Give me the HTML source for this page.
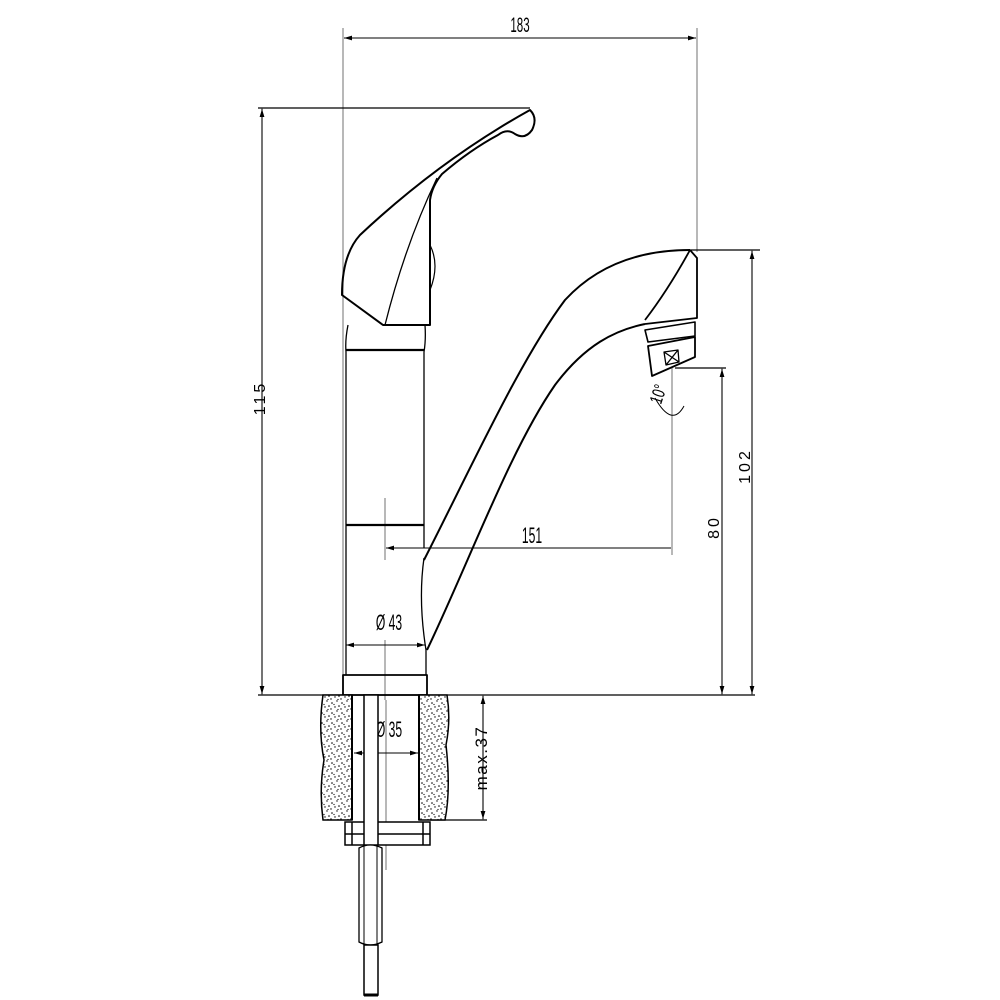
<!DOCTYPE html>
<html><head><meta charset="utf-8"><style>
html,body{margin:0;padding:0;background:#fff}
svg{display:block}
text{font-family:"Liberation Sans",sans-serif;fill:#000}
</style></head><body>
<svg width="1000" height="1000" viewBox="0 0 1000 1000" xmlns="http://www.w3.org/2000/svg">
<defs>
<pattern id="sp" width="10" height="10" patternUnits="userSpaceOnUse">
<rect width="10" height="10" fill="#fff"/>
<circle cx="2" cy="3" r="0.8" fill="#000"/><circle cx="7" cy="1" r="0.7" fill="#000"/>
<circle cx="9" cy="6" r="0.8" fill="#000"/><circle cx="5" cy="7" r="0.7" fill="#000"/>
<circle cx="1" cy="9" r="0.7" fill="#000"/><circle cx="8" cy="9.5" r="0.6" fill="#000"/>
<circle cx="4" cy="4.5" r="0.6" fill="#000"/>
</pattern>
<marker id="a" viewBox="0 0 10 6" refX="10" refY="3" markerWidth="8" markerHeight="5" orient="auto-start-reverse"><path d="M0,0L10,3L0,6z" fill="#000"/></marker>
</defs>
<g stroke="#888" stroke-width="1.2" fill="none">
<line x1="343" y1="28" x2="343" y2="695"/>
<line x1="697" y1="28" x2="697" y2="252"/>
<line x1="262" y1="108" x2="262" y2="695"/>
<line x1="722" y1="368" x2="722" y2="695"/>
<line x1="752" y1="250" x2="752" y2="695"/>
<line x1="672" y1="368" x2="672" y2="555"/>
<line x1="385" y1="498" x2="385" y2="560"/>
<line x1="385" y1="640" x2="385" y2="700"/>
<line x1="386" y1="700" x2="386" y2="870"/>
<line x1="483" y1="695" x2="483" y2="820"/>
</g>
<g stroke="#000" stroke-width="1.3" fill="none">
<line x1="258" y1="108" x2="530" y2="108"/>
<line x1="258" y1="695" x2="755" y2="695"/>
<line x1="690" y1="250" x2="760" y2="250"/>
<line x1="675" y1="368" x2="726" y2="368"/>
<line x1="430" y1="820" x2="487" y2="820"/>
</g>
<g stroke="#000" stroke-width="1" fill="none" marker-start="url(#a)" marker-end="url(#a)">
<line x1="344" y1="38" x2="696" y2="38"/>
<line x1="262" y1="109" x2="262" y2="694"/>
<line x1="752" y1="251" x2="752" y2="694"/>
<line x1="722" y1="369" x2="722" y2="694"/>
<line x1="483" y1="696" x2="483" y2="819"/>
<line x1="346" y1="645" x2="425" y2="645"/>
<line x1="354" y1="753" x2="418" y2="753"/>
</g>
<line x1="386" y1="548" x2="671" y2="548" stroke="#000" stroke-width="1" marker-start="url(#a)"/>
<g transform="translate(520,32) scale(0.55,1)"><text x="0" y="0" font-size="21" text-anchor="middle">183</text></g>
<g transform="translate(532,543) scale(0.55,1)"><text x="0" y="0" font-size="22" text-anchor="middle">151</text></g>
<g transform="translate(389,630) scale(0.55,1)"><text x="0" y="0" font-size="22" text-anchor="middle">Ø 43</text></g>
<g transform="translate(389,737) scale(0.55,1)"><text x="0" y="0" font-size="22" text-anchor="middle">Ø 35</text></g>
<text transform="translate(265,398) rotate(-90)" font-size="16" text-anchor="middle" letter-spacing="3">115</text>
<text transform="translate(750,466) rotate(-90)" font-size="16" text-anchor="middle" letter-spacing="3">102</text>
<text transform="translate(719,527) rotate(-90)" font-size="16" text-anchor="middle" letter-spacing="3">80</text>
<text transform="translate(487,758) rotate(-90)" font-size="17" text-anchor="middle" letter-spacing="1.5">max.37</text>
<g transform="translate(664,396) rotate(-72) scale(0.7,1)"><text x="0" y="0" font-size="18" text-anchor="middle">10°</text></g>
<path d="M655,398 Q672,428 684,406" stroke="#000" stroke-width="1" fill="none"/>
<g stroke="#000" fill="none" stroke-linejoin="round">
<path d="M342,295 Q342,255 360,235 Q440,160 530,110 Q538,118 532,130 Q525,140 515,134 Q507,128 498,135 Q470,150 442,174 Q432,186 430,200 L430,325 L383,325 Z" stroke-width="2"/>
<path d="M385,325 Q405,245 437,178" stroke-width="1.3"/>
<path d="M430,245 Q440,265 430,290" stroke-width="1.2"/>
<path d="M348,325 Q345,340 346,352 L346,675 M425,325 Q426,340 424,352 L424,548" stroke-width="1.3"/>
<line x1="346" y1="350" x2="424" y2="350" stroke-width="2.2"/>
<line x1="346" y1="525" x2="424" y2="525" stroke-width="2.2"/>
<path d="M424,558 Q418,600 426,650 L426,675" stroke-width="1.3"/>
<rect x="343" y="675" width="84" height="20" stroke-width="1.8"/>
<path d="M424,560 C470,470 520,360 565,300 C600,262 645,250 690,250" stroke-width="2"/>
<path d="M427,650 C470,560 510,450 555,385 C585,345 615,330 645,324" stroke-width="2"/>
<path d="M690,250 L697,258 L697,318 L645,324 M690,250 Q668,290 645,320" stroke-width="1.8"/>
<path d="M645,330 L695,322 L695,336 L648,342 Z" stroke-width="1.6"/>
<path d="M648,346 L695,337 L695,357 L652,376 Z" stroke-width="1.8"/>
<path d="M664,352 L678,350 L679,362 L666,365 Z M664,352 L679,362 M678,350 L666,365" stroke-width="1.3"/>
</g>
<g stroke="#000" stroke-width="1.5">
<path d="M323,695 L352,695 L352,820 L323,820 Q319,790 324,760 Q318,730 323,695 Z" fill="url(#sp)"/>
<path d="M419,695 L447,695 Q451,720 446,745 Q451,790 445,820 L419,820 Z" fill="url(#sp)"/>
<line x1="352" y1="695" x2="352" y2="820" stroke-width="2"/>
<line x1="419" y1="695" x2="419" y2="820" stroke-width="2"/>
<rect x="345" y="822" width="85" height="23" fill="#fff"/>
<line x1="345" y1="834" x2="430" y2="834"/>
<line x1="352" y1="822" x2="352" y2="845"/>
<line x1="423" y1="822" x2="423" y2="845"/>
<rect x="364" y="695" width="14" height="150" fill="#fff"/>
<path d="M359,848 Q370,842 382,848 L382,942 Q370,948 359,942 Z" fill="#fff" stroke-width="1.3"/>
<line x1="364" y1="845" x2="364" y2="945" stroke-width="1"/>
<line x1="377" y1="845" x2="377" y2="945" stroke-width="1"/>
<rect x="364" y="945" width="14" height="50" fill="#fff"/>
<line x1="364" y1="995" x2="378" y2="995" stroke-width="3"/>
</g>
</svg>
</body></html>
